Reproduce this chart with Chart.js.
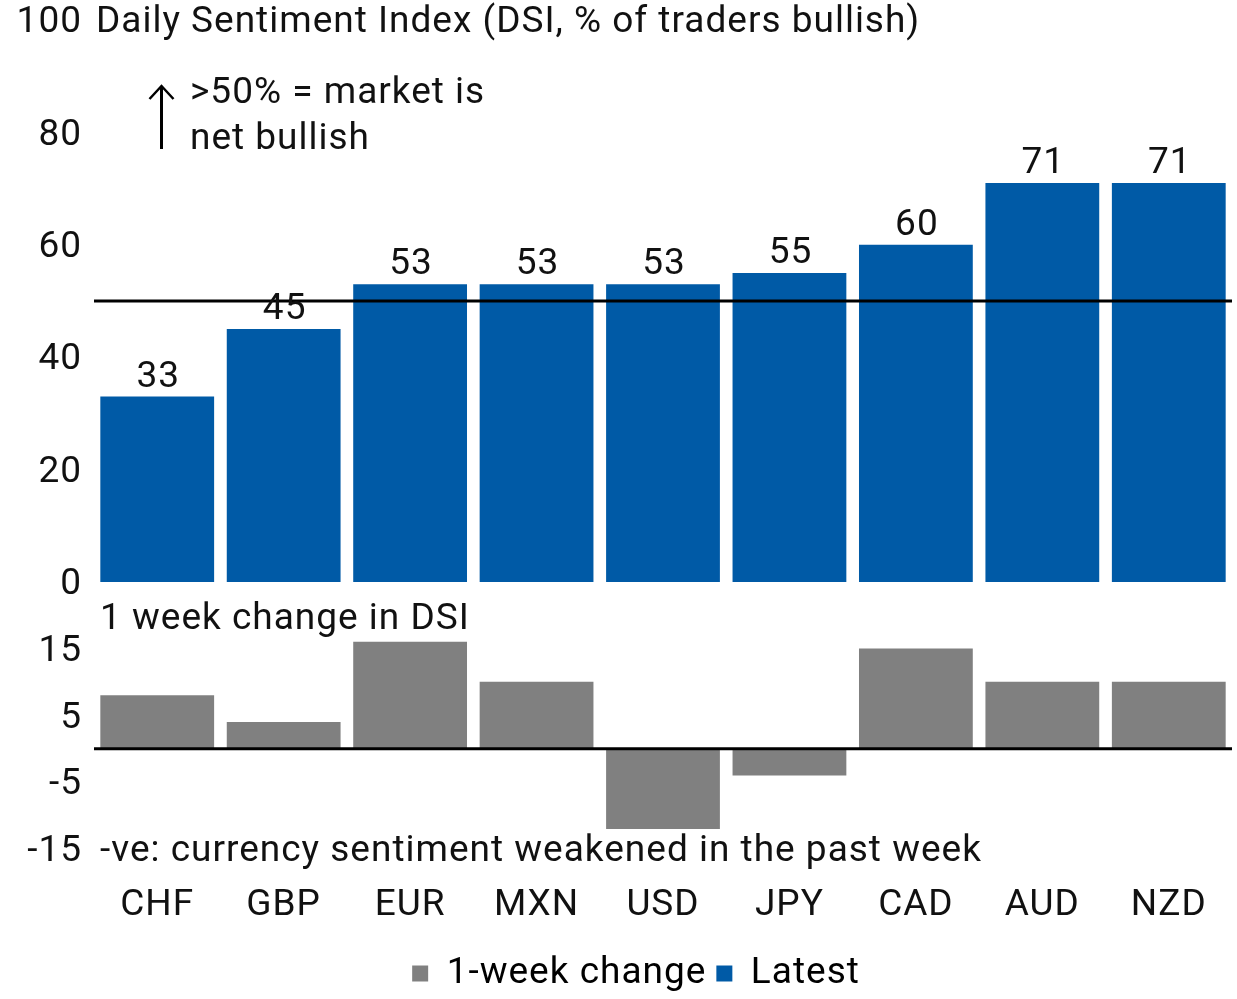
<!DOCTYPE html>
<html>
<head>
<meta charset="utf-8">
<script src="https://cdn.jsdelivr.net/npm/chart.js@4.4.1/dist/chart.umd.min.js"></script>
<style>
  html, body { margin: 0; padding: 0; background: #ffffff; overflow: hidden; }
  #wrap { position: relative; width: 1237px; height: 999px; overflow: hidden; }
  canvas { position: absolute; left: 0; }
  #cTop { top: 0; }
  #cBot { top: 590px; }
</style>
</head>
<body>
<div id="wrap">
  <canvas id="cTop" width="1237" height="600"></canvas>
  <canvas id="cBot" width="1237" height="412"></canvas>
</div>
<script>
const categories = ['CHF', 'GBP', 'EUR', 'MXN', 'USD', 'JPY', 'CAD', 'AUD', 'NZD'];
const latest = [33, 45, 53, 53, 53, 55, 60, 71, 71];
const weekChange = [8, 4, 16, 10, -12, -4, 15, 10, 10];
const topTicks = [0, 20, 40, 60, 80, 100];
const bottomTicks = [-15, -5, 5, 15];
const neutralLevel = 50;

const BLUE = '#005AA6';
const GRAY = '#808080';
const INK = '#111111';
const FONT = 'Roboto';
const FS = 37;
const SPACING = '1px';
const TXT_DY = 3;   // visual centring of digits on the tick

Chart.defaults.font.family = FONT;
Chart.defaults.font.size = FS;
Chart.defaults.color = INK;

const spacingPlugin = {
  id: 'letterSpacing',
  beforeUpdate(chart) { chart.ctx.letterSpacing = SPACING; },
  beforeLayout(chart) { chart.ctx.letterSpacing = SPACING; },
  beforeDraw(chart) { chart.ctx.letterSpacing = SPACING; }
};

const yFit = s => {
  s.width = 94;
  s.paddingTop = 0;
  s.paddingBottom = 0;
};

const topPlugin = {
  id: 'topDecor',
  afterDatasetsDraw(chart) {
    const ctx = chart.ctx;
    const area = chart.chartArea;
    const y = chart.scales.y;
    ctx.save();
    ctx.letterSpacing = SPACING;
    const y50 = y.getPixelForValue(neutralLevel);
    ctx.strokeStyle = '#000';
    ctx.lineWidth = 3;
    ctx.beginPath();
    ctx.moveTo(area.left, y50);
    ctx.lineTo(area.right, y50);
    ctx.stroke();
    ctx.fillStyle = INK;
    ctx.font = FS + 'px ' + FONT;
    ctx.textAlign = 'center';
    ctx.textBaseline = 'alphabetic';
    const meta = chart.getDatasetMeta(0);
    meta.data.forEach((bar, i) => {
      ctx.fillText(String(latest[i]), bar.x + 1, bar.y - 10);
    });
    ctx.textAlign = 'left';
    ctx.textBaseline = 'middle';
    ctx.fillText('Daily Sentiment Index (DSI, % of traders bullish)', area.left + 2, y.getPixelForValue(100) + TXT_DY);
    ctx.fillText('>50% = market is', area.left + 96, area.top + 74);
    ctx.fillText('net bullish', area.left + 96, area.top + 120);
    const ax = area.left + 67.5;
    const tipY = area.top + 66;
    ctx.lineWidth = 3;
    ctx.beginPath();
    ctx.moveTo(ax, tipY + 1);
    ctx.lineTo(ax, area.top + 129);
    ctx.stroke();
    ctx.lineWidth = 2.5;
    ctx.beginPath();
    ctx.moveTo(ax - 12, tipY + 13);
    ctx.lineTo(ax, tipY);
    ctx.lineTo(ax + 12, tipY + 13);
    ctx.stroke();
    ctx.restore();
  }
};

const botPlugin = {
  id: 'botDecor',
  afterLayout(chart) {
    const lg = chart.legend;
    if (lg) { lg.left += 20; lg.right += 20; }
  },
  afterDatasetsDraw(chart) {
    const ctx = chart.ctx;
    const area = chart.chartArea;
    const y = chart.scales.y;
    ctx.save();
    ctx.letterSpacing = SPACING;
    const y0 = y.getPixelForValue(0);
    ctx.strokeStyle = '#000';
    ctx.lineWidth = 3;
    ctx.beginPath();
    ctx.moveTo(area.left, y0);
    ctx.lineTo(area.right, y0);
    ctx.stroke();
    ctx.fillStyle = INK;
    ctx.font = FS + 'px ' + FONT;
    ctx.textAlign = 'left';
    ctx.textBaseline = 'middle';
    ctx.fillText('1 week change in DSI', area.left + 6, area.top + 5);
    ctx.fillText('-ve: currency sentiment weakened in the past week', area.left + 6, y.getPixelForValue(-15) + TXT_DY);
    ctx.restore();
  }
};

new Chart(document.getElementById('cTop'), {
  type: 'bar',
  data: {
    labels: categories,
    datasets: [{
      label: 'Latest',
      data: latest,
      backgroundColor: BLUE,
      barPercentage: 0.9,
      categoryPercentage: 1.0
    }]
  },
  options: {
    responsive: false,
    animation: false,
    devicePixelRatio: 1,
    layout: { padding: { top: 20, bottom: 18, left: 0, right: 5 } },
    scales: {
      x: { display: false },
      y: {
        min: 0, max: 100,
        afterBuildTicks: s => { s.ticks = topTicks.map(v => ({ value: v })); },
        afterFit: yFit,
        grid: { display: false, drawTicks: false },
        border: { display: false },
        ticks: { padding: 12, labelOffset: TXT_DY, color: INK, font: { size: FS } }
      }
    },
    plugins: { legend: { display: false }, tooltip: { enabled: false } }
  },
  plugins: [spacingPlugin, topPlugin]
});

new Chart(document.getElementById('cBot'), {
  type: 'bar',
  data: {
    labels: categories,
    datasets: [{
      label: '1-week change',
      data: weekChange,
      backgroundColor: GRAY,
      barPercentage: 0.9,
      categoryPercentage: 1.0
    }]
  },
  options: {
    responsive: false,
    animation: false,
    devicePixelRatio: 1,
    layout: { padding: { top: 25, bottom: 0, left: 0, right: 5 } },
    scales: {
      x: {
        grid: { display: false, drawTicks: false },
        border: { display: false },
        ticks: { padding: 35, color: INK, font: { size: FS }, maxRotation: 0 },
        afterFit: s => { s.height = 96; s.paddingLeft = 0; s.paddingRight = 0; }
      },
      y: {
        min: -15, max: 20,
        afterBuildTicks: s => { s.ticks = bottomTicks.map(v => ({ value: v })); },
        afterFit: yFit,
        grid: { display: false, drawTicks: false },
        border: { display: false },
        ticks: { padding: 12, labelOffset: TXT_DY, color: INK, font: { size: FS } }
      }
    },
    plugins: {
      tooltip: { enabled: false },
      legend: {
        display: true,
        position: 'bottom',
        labels: {
          boxWidth: 16,
          boxHeight: 16,
          padding: 10,
          color: INK,
          font: { size: FS },
          generateLabels: () => [
            { text: '1-week change', fillStyle: GRAY, strokeStyle: GRAY, lineWidth: 0, hidden: false, datasetIndex: 0 },
            { text: 'Latest', fillStyle: BLUE, strokeStyle: BLUE, lineWidth: 0, hidden: false, datasetIndex: 1 }
          ]
        }
      }
    }
  },
  plugins: [spacingPlugin, botPlugin]
});
</script>
</body>
</html>
